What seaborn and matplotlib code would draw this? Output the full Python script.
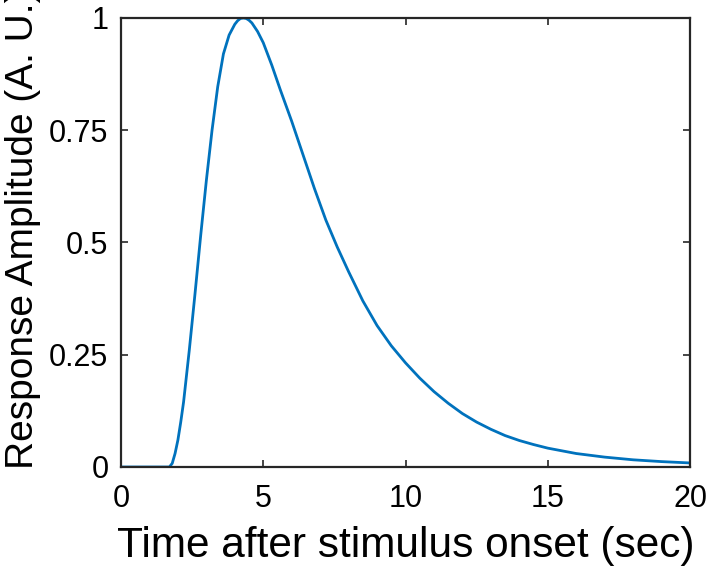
import pandas as pd
import matplotlib
matplotlib.use("Agg")
import matplotlib.pyplot as plt
import seaborn as sns

# values
time_sec = [0, 1.0, 1.7, 1.8, 1.9, 2.0, 2.1, 2.2, 2.4, 2.6, 2.8, 3.0, 3.2, 3.4,
            3.6, 3.8, 4.0, 4.1, 4.2, 4.3, 4.4, 4.5, 4.6, 4.8, 5.0, 5.3, 5.6,
            6.0, 6.4, 6.8, 7.2, 7.6, 8.0, 8.5, 9.0, 9.5, 10.0, 10.5, 11.0,
            11.5, 12.0, 12.5, 13.0, 13.5, 14.0, 14.5, 15.0, 16.0, 17.0, 18.0,
            19.0, 20.0]
amplitude = [0, 0, 0, 0.008, 0.03, 0.06, 0.1, 0.145, 0.26, 0.385, 0.515, 0.638,
             0.75, 0.847, 0.92, 0.962, 0.986, 0.994, 0.999, 1.0, 0.999, 0.995,
             0.989, 0.97, 0.945, 0.895, 0.84, 0.77, 0.695, 0.62, 0.55, 0.49,
             0.435, 0.37, 0.315, 0.27, 0.232, 0.198, 0.168, 0.142, 0.119, 0.1,
             0.084, 0.07, 0.059, 0.05, 0.042, 0.03, 0.022, 0.016, 0.012, 0.009]

xticks = [0, 5, 10, 15, 20]
yticks = [0, 0.25, 0.5, 0.75, 1]
ytick_labels = ["0", "0.25", "0.5", "0.75", "1"]

df = pd.DataFrame({"t": time_sec, "amp": amplitude})

sns.set_style("ticks")
plt.rcParams["font.family"] = ["Liberation Sans", "DejaVu Sans"]
plt.rcParams["text.color"] = "black"
plt.rcParams["axes.labelcolor"] = "black"

fig = plt.figure(figsize=(7.08, 5.73), dpi=100)
ax = fig.add_axes([0.1709, 0.185, 0.8037, 0.7836])

sns.lineplot(data=df, x="t", y="amp", color="#0072BD", linewidth=2.0, ax=ax)

ax.set_xlim(0, 20)
ax.set_ylim(0, 1)
ax.set_xticks(xticks)
ax.set_xticklabels([str(v) for v in xticks])
ax.set_yticks(yticks)
ax.set_yticklabels(ytick_labels)
ax.tick_params(direction="in", length=5, width=1.2, colors="#262626",
               labelcolor="black", labelsize=22, top=True, right=True)
ax.tick_params(axis="x", pad=12)
ax.tick_params(axis="y", pad=9)
for s in ax.spines.values():
    s.set_color("#262626")
    s.set_linewidth(1.6)
    s.set_visible(True)

ax.set_xlabel("Time after stimulus onset (sec)", fontsize=30.5, labelpad=9)
ax.set_ylabel("Response Amplitude (A. U.)", fontsize=28, labelpad=6)
ax.yaxis.label.set_y(0.53)

fig.savefig("out.png", dpi=100)
